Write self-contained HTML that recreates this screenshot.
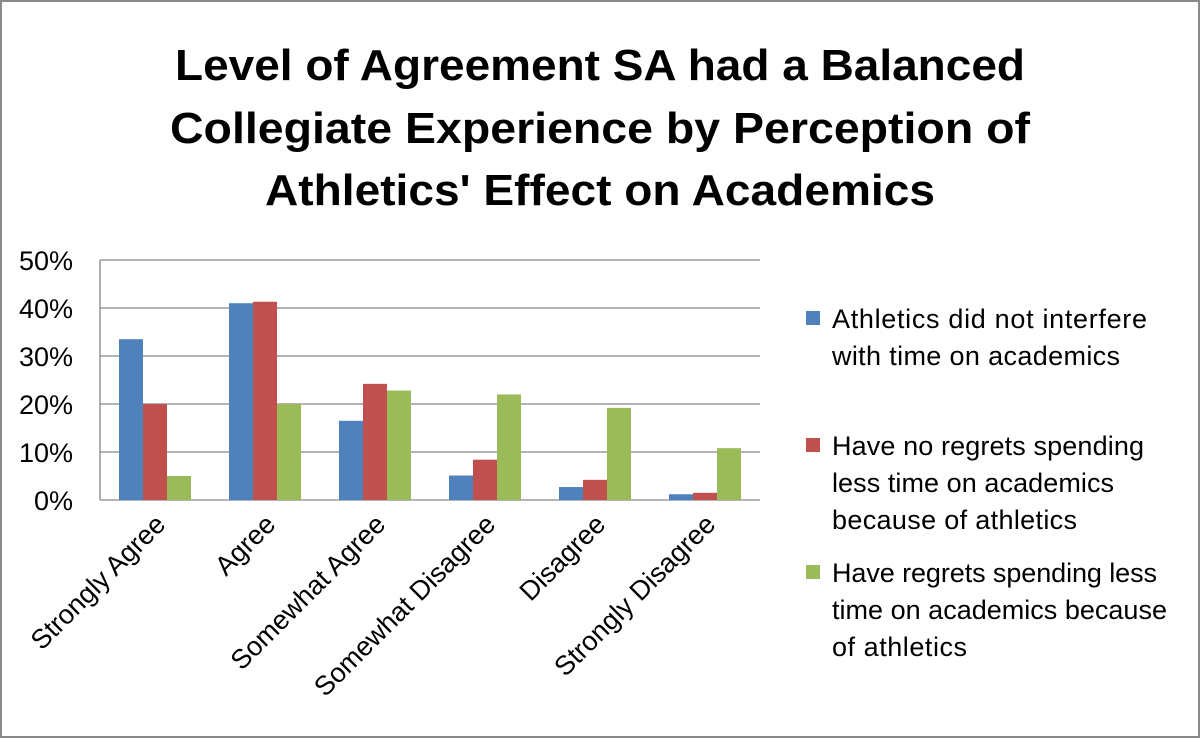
<!DOCTYPE html>
<html><head><meta charset="utf-8"><style>
html,body{margin:0;padding:0;background:#fff}
svg{display:block}
text{font-family:"Liberation Sans",sans-serif;fill:#000}
</style></head><body>
<svg id="chart" width="1200" height="738" viewBox="0 0 1200 738">
<rect x="1" y="1" width="1198" height="736" fill="#fff" stroke="#8a8a8a" stroke-width="2"/>
<g font-weight="bold" font-size="44" text-anchor="middle">
<text x="600" y="80" textLength="850" lengthAdjust="spacingAndGlyphs">Level of Agreement SA had a Balanced</text>
<text x="600" y="143" textLength="860" lengthAdjust="spacingAndGlyphs">Collegiate Experience by Perception of</text>
<text x="600" y="205" textLength="670" lengthAdjust="spacingAndGlyphs">Athletics' Effect on Academics</text>
</g>
<g id="grid"></g><g id="bars"></g><g id="axes"></g>
<g font-size="27" lengthAdjust="spacingAndGlyphs">
<rect x="806" y="311" width="14" height="14" fill="#4f81bd"/>
<text x="832" y="328" textLength="315">Athletics did not interfere</text><text x="832" y="365" textLength="288">with time on academics</text>
<rect x="806" y="438" width="14" height="14" fill="#c0504d"/>
<text x="832" y="455" textLength="312">Have no regrets spending</text><text x="832" y="492" textLength="282">less time on academics</text><text x="832" y="529" textLength="245">because of athletics</text>
<rect x="806" y="565" width="14" height="14" fill="#9bbb59"/>
<text x="832" y="582" textLength="325">Have regrets spending less</text><text x="832" y="619" textLength="335">time on academics because</text><text x="832" y="656" textLength="135">of athletics</text>
</g>
</svg>
<script>
const categories=["Strongly Agree","Agree","Somewhat Agree","Somewhat Disagree","Disagree","Strongly Disagree"];
const series1=[33.5,41,16.5,5.1,2.7,1.2];
const series2=[20,41.3,24.2,8.4,4.2,1.5];
const series3=[5,20,22.8,22,19.2,10.8];
const yTicks=[0,10,20,30,40,50];
const ns="http://www.w3.org/2000/svg";
const L=100,R=760,T=260,B=500,yMax=50;
const y=v=>B-(v/yMax)*(B-T);
const cw=(R-L)/categories.length;
function mk(p,tag,a){const e=document.createElementNS(ns,tag);for(const k in a)e.setAttribute(k,a[k]);document.getElementById(p).appendChild(e);return e;}
yTicks.forEach(t=>{
 const l=mk("grid","line",{x1:L,x2:R,y1:y(t),y2:y(t),stroke:"#868686","stroke-width":1.3});
 
 
 const tx=mk("axes","text",{x:73,y:y(t)+10,"text-anchor":"end","font-size":27});
 tx.textContent=t+"%";
 
 
});
const ax=mk("axes","line",{x1:L,x2:L,y1:T,y2:B,stroke:"#868686","stroke-width":1.3});


const colors=["#4f81bd","#c0504d","#9bbb59"];
const bw=24;
[series1,series2,series3].forEach((s,si)=>{
 s.forEach((v,i)=>{
  const x=L+i*cw+(cw-3*bw)/2+si*bw;
  const r=mk("bars","rect",{x:x,y:y(v),width:bw,height:B-y(v),fill:colors[si]});
  
  
 });
});
categories.forEach((c,i)=>{
 const cx=L+i*cw+cw/2+12, cy=B+26;
 const t=mk("axes","text",{x:cx,y:cy,"text-anchor":"end","font-size":27,transform:`rotate(-45 ${cx} ${cy})`});
 t.textContent=c;
 
 
});
</script>
</body></html>
